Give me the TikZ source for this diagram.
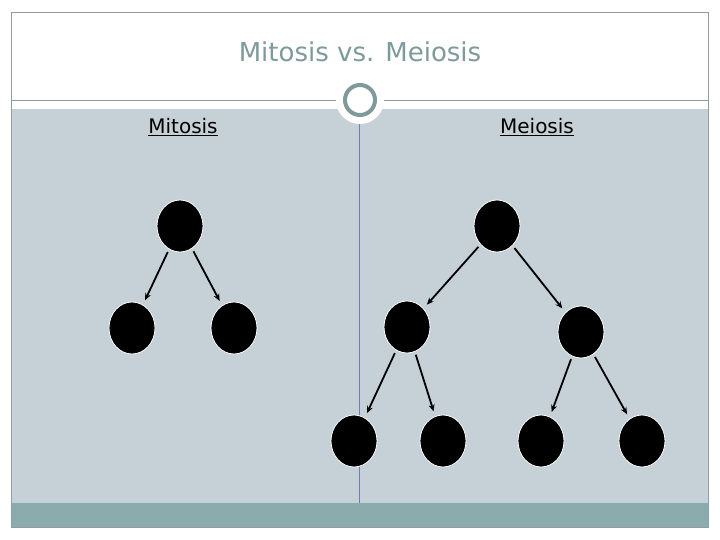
\documentclass[tikz,border=0pt]{standalone}
\usepackage{fontspec}
\setmainfont{DejaVu Sans}
\usetikzlibrary{shapes.geometric,arrows.meta}

\definecolor{panelgrey}{HTML}{C6D1D7}
\definecolor{bandteal}{HTML}{8AACAC}
\definecolor{titleteal}{HTML}{7F9A9A}
\definecolor{framegrey}{HTML}{8E9EA0}

\tikzset{
  cell/.style={ellipse, fill=black, draw=white, line width=0.8pt,
    minimum width=46pt, minimum height=52pt, inner sep=0pt},
  split/.style={-{Stealth[length=7pt,width=6pt]}, line width=1.8pt,
    shorten <=3pt, shorten >=5pt},
  heading/.style={font=\fontsize{20}{24}\selectfont}
}

\begin{document}
\begin{tikzpicture}[x=1pt,y=-1pt]
    \useasboundingbox (0,0) rectangle (720,540);
    \fill[white] (0,0) rectangle (720,540);

    % Panels
    \fill[panelgrey] (11,109) rectangle (708,503);
    \fill[bandteal] (11,503) rectangle (708,527);
    \draw[framegrey, line width=0.8pt] (11,12) rectangle (708,527);
    \draw[framegrey, line width=0.8pt] (11,100) -- (708,100);
    \draw[framegrey!80!blue, line width=0.7pt] (359,118) -- (359,503);

    % Title and ring
    \node[titleteal, font=\fontsize{26}{30}\selectfont] (title) at (360,52) {Mitosis vs. Meiosis};
    \fill[white] (360,100) circle (24);
    \draw[titleteal, line width=4pt] (360,100) circle (15);

    % Column headings
    \node[heading] (mitlabel) at (183,127) {\underline{Mitosis}};
    \node[heading] (meilabel) at (537,127) {\underline{Meiosis}};

    % Mitosis
    \node[cell] (mit) at (180,226) {};
    \node[cell] (mitA) at (132,328) {};
    \node[cell] (mitB) at (234,328) {};
    \draw[split] (mit) -- (mitA);
    \draw[split] (mit) -- (mitB);

    % Meiosis
    \node[cell] (mei) at (497,226) {};
    \node[cell] (meiA) at (407,327) {};
    \node[cell] (meiB) at (581,332) {};
    \node[cell] (meiA1) at (354,441) {};
    \node[cell] (meiA2) at (443,441) {};
    \node[cell] (meiB1) at (541,441) {};
    \node[cell] (meiB2) at (642,441) {};
    \draw[split] (mei) -- (meiA);
    \draw[split] (mei) -- (meiB);
    \draw[split] (meiA) -- (meiA1);
    \draw[split] (meiA) -- (meiA2);
    \draw[split] (meiB) -- (meiB1);
    \draw[split] (meiB) -- (meiB2);
\end{tikzpicture}
\end{document}
